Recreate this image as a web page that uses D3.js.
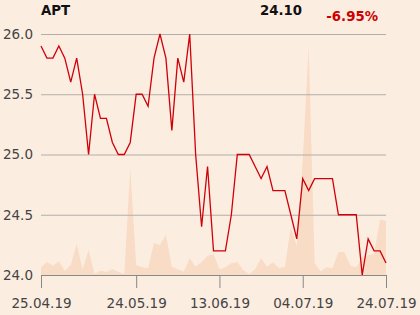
<!DOCTYPE html>
<html><head><meta charset="utf-8">
<script src="https://cdn.jsdelivr.net/npm/d3@7"></script>
<style>
html,body{margin:0;padding:0;background:#fcede1;}
svg{display:block;font-family:"DejaVu Sans",sans-serif;}
</style></head>
<body><svg id="c" width="420" height="315"></svg>
<script>
const ticker = "APT";
const lastPrice = "24.10";
const change = "-6.95%";
const prices = [25.9,25.8,25.8,25.9,25.8,25.6,25.8,25.5,25.0,25.5,25.3,25.3,
  25.1,25.0,25.0,25.1,25.5,25.5,25.4,25.8,26.0,25.8,25.2,
  25.8,25.6,26.0,25.0,24.4,24.9,24.2,24.2,24.2,24.5,25.0,25.0,
  25.0,24.9,24.8,24.9,24.7,24.7,24.7,24.5,24.3,24.8,24.7,
  24.8,24.8,24.8,24.8,24.5,24.5,24.5,24.5,24.0,24.3,24.2,24.2,24.1];
const volumes = [77,130,93,137,43,100,310,57,250,13,
  43,30,60,30,10,1067,100,77,67,320,
  300,400,83,57,33,167,83,130,190,210,
  57,77,117,130,50,10,57,167,83,127,
  67,83,480,290,1150,2300,120,37,77,67,
  230,230,95,77,180,200,210,555,540];
const xTickIndex = [0,16,30,44,58];
const xTickLabels = ["25.04.19","24.05.19","13.06.19","04.07.19","24.07.19"];
const yTicks = [24.0,24.5,25.0,25.5,26.0];

const svg = d3.select("#c");
const L = 41, R = 386, T = 34, B = 275;
const x = d3.scaleLinear().domain([0, prices.length-1]).range([L, R]);
const y = d3.scaleLinear().domain([24, 26]).range([B, T]);
const yv = d3.scaleLinear().domain([0, 2400]).range([B, B-240]);

// volume area
svg.append("path")
  .datum(volumes)
  .attr("fill", "#f8dcc6")
  .attr("d", d3.area().x((d,i)=>x(i)).y0(B).y1(d=>yv(d)));

// grid
const gy = svg.append("g").attr("transform",`translate(${L},0)`)
  .call(d3.axisLeft(y).tickValues(yTicks).tickFormat(d3.format(".1f")).tickSize(-(R-L)).tickPadding(8));
gy.select(".domain").remove();
gy.selectAll(".tick line").attr("stroke","#b3aea8").attr("stroke-width",1);
gy.selectAll(".tick text").attr("fill","#444").style("font-size","13.5px").style("font-family","DejaVu Sans");

// x axis
const gx = svg.append("g").attr("transform",`translate(0,${B})`)
  .call(d3.axisBottom(x).tickValues(xTickIndex).tickFormat((d,i)=>xTickLabels[i]).tickSize(13).tickSizeOuter(0).tickPadding(10));
gx.select(".domain").attr("stroke","#888");
gx.selectAll(".tick line").attr("stroke","#888");
gx.selectAll(".tick text").attr("fill","#444").style("font-size","13.5px").style("font-family","DejaVu Sans");

// price line
svg.append("path")
  .datum(prices)
  .attr("fill","none")
  .attr("stroke","#d0000a")
  .attr("stroke-width",1.3)
  .attr("stroke-linejoin","miter")
  .attr("d", d3.line().x((d,i)=>x(i)).y(d=>y(d)));

// header
svg.append("text").attr("x",41).attr("y",15).text(ticker)
  .style("font-weight","bold").style("font-size","13.3px").attr("fill","#111");
svg.append("text").attr("x",302).attr("y",14.5).attr("text-anchor","end").text(lastPrice)
  .style("font-weight","bold").style("font-size","13.3px").attr("fill","#111");
svg.append("text").attr("x",378).attr("y",21).attr("text-anchor","end").text(change)
  .style("font-weight","bold").style("font-size","13.3px").attr("fill","#cc0000");
</script></body></html>
